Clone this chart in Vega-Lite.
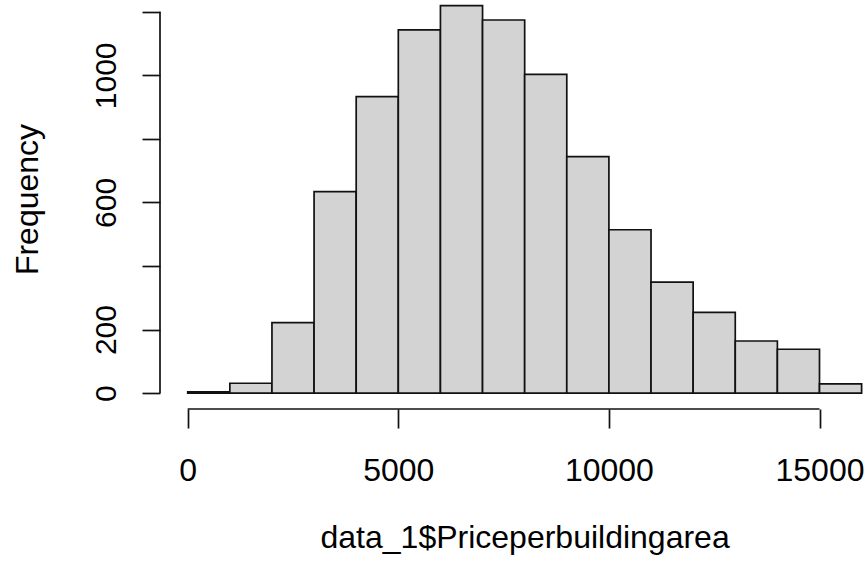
{
  "$schema": "https://vega.github.io/schema/vega-lite/v6.json",
  "width": 706,
  "height": 409,
  "autosize": "none",
  "padding": {"left": 160, "top": 0, "right": 0, "bottom": 155},
  "background": "white",
  "config": {"view": {"stroke": null}, "font": "Liberation Sans"},
  "layer": [
    {
      "data": {"values": [
        {"bin_start": 0, "bin_end": 1000, "count": 4},
        {"bin_start": 1000, "bin_end": 2000, "count": 31},
        {"bin_start": 2000, "bin_end": 3000, "count": 222},
        {"bin_start": 3000, "bin_end": 4000, "count": 634},
        {"bin_start": 4000, "bin_end": 5000, "count": 933},
        {"bin_start": 5000, "bin_end": 6000, "count": 1143},
        {"bin_start": 6000, "bin_end": 7000, "count": 1219},
        {"bin_start": 7000, "bin_end": 8000, "count": 1174},
        {"bin_start": 8000, "bin_end": 9000, "count": 1003},
        {"bin_start": 9000, "bin_end": 10000, "count": 744},
        {"bin_start": 10000, "bin_end": 11000, "count": 514},
        {"bin_start": 11000, "bin_end": 12000, "count": 349},
        {"bin_start": 12000, "bin_end": 13000, "count": 254},
        {"bin_start": 13000, "bin_end": 14000, "count": 164},
        {"bin_start": 14000, "bin_end": 15000, "count": 138},
        {"bin_start": 15000, "bin_end": 16000, "count": 29}
      ]},
      "mark": {"type": "bar", "fill": "#D3D3D3", "stroke": "#111111", "strokeWidth": 1.7, "clip": true},
      "encoding": {
        "x": {
          "field": "bin_start", "type": "quantitative",
          "scale": {"domain": [-658, 16104], "nice": false, "zero": false},
          "axis": {
            "values": [0, 5000, 10000, 15000],
            "format": "d",
            "domain": false, "grid": false,
            "tickSize": 19, "tickWidth": 1.7, "tickColor": "#111111",
            "labelFontSize": 32, "labelFont": "Liberation Sans", "labelColor": "#000000",
            "labelBaseline": "alphabetic", "labelPadding": 52,
            "labelFlush": false, "labelOverlap": false,
            "title": "data_1$Priceperbuildingarea",
            "titleFontSize": 32, "titleFont": "Liberation Sans", "titleFontWeight": "normal", "titleColor": "#000000",
            "titleBaseline": "alphabetic", "titleAlign": "center",
            "titleX": 364.6, "titleY": 138
          }
        },
        "x2": {"field": "bin_end"},
        "y": {
          "field": "count", "type": "quantitative",
          "scale": {"domain": [-50, 1237], "nice": false, "zero": false},
          "axis": {
            "values": [0, 200, 400, 600, 800, 1000, 1200],
            "format": "d",
            "labelExpr": "indexof([0, 200, 600, 1000], datum.value) >= 0 ? datum.label : ''",
            "domain": false, "grid": false,
            "tickSize": 18, "tickWidth": 1.7, "tickColor": "#111111",
            "labelFontSize": 30, "labelFont": "Liberation Sans", "labelColor": "#000000",
            "labelAngle": 270, "labelAlign": "center", "labelBaseline": "alphabetic", "labelPadding": 27,
            "labelFlush": false, "labelOverlap": false,
            "title": "Frequency",
            "titleFontSize": 32, "titleFont": "Liberation Sans", "titleFontWeight": "normal", "titleColor": "#000000",
            "titleAngle": 270, "titleBaseline": "alphabetic", "titleAlign": "center",
            "titleX": -122.7, "titleY": 199
          }
        },
        "y2": {"datum": 0}
      }
    },
    {
      "data": {"values": [{}]},
      "mark": {"type": "rule", "stroke": "#111111", "strokeWidth": 1.7},
      "encoding": {
        "x": {"datum": 0, "type": "quantitative"},
        "x2": {"datum": 15000},
        "y": {"datum": -50, "type": "quantitative"}
      }
    },
    {
      "data": {"values": [{}]},
      "mark": {"type": "rule", "stroke": "#111111", "strokeWidth": 1.7},
      "encoding": {
        "x": {"datum": -658, "type": "quantitative"},
        "y": {"datum": 0, "type": "quantitative"},
        "y2": {"datum": 1200}
      }
    }
  ]
}
